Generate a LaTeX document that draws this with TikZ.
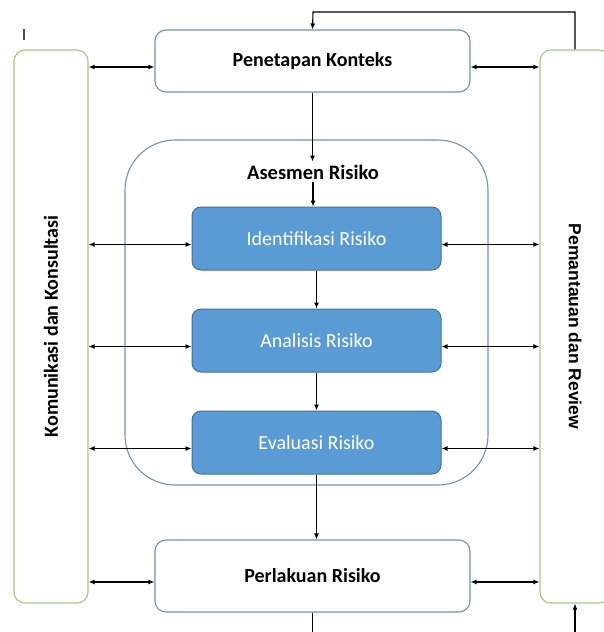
\documentclass[tikz,border=0pt]{standalone}
\usepackage{fontspec}
\setmainfont{Carlito}
\newfontfamily\arialfont{Liberation Sans}
\usetikzlibrary{arrows.meta, positioning}

\definecolor{colgreen}{HTML}{A8C88C}
\definecolor{boxline}{HTML}{7291B3}
\definecolor{stepfill}{HTML}{5B9BD5}
\definecolor{stepline}{HTML}{41719C}

\begin{document}
\begin{tikzpicture}[
    x=1pt, y=-1pt,
    node distance=38pt,
    every node/.style={inner sep=0pt, font=\fontsize{20}{24}\selectfont},
    sidebox/.style={draw=colgreen, line width=1.2pt, rounded corners=11pt, minimum width=74pt, minimum height=553pt},
    mainbox/.style={draw=boxline, line width=1.1pt, rounded corners=11pt, minimum width=315pt, font=\fontsize{20}{24}\selectfont\bfseries},
    stepbox/.style={draw=stepline, fill=stepfill, line width=1pt, rounded corners=9pt, minimum width=249pt, minimum height=63pt, text=white},
    link/.style={-{Latex[length=6pt,width=5pt]}, line width=1.1pt},
    both/.style={{Latex[length=6pt,width=5pt]}-{Latex[length=6pt,width=5pt]}, line width=1.1pt}
]

% Page size
\useasboundingbox (0,0) rectangle (603,632);

% Cursor mark
\draw[black!70, line width=1.2pt] (24,29) -- (24,40);

% Side columns
\node[sidebox] (comm) at (51,326.5) {};
\node[rotate=90, font=\fontsize{20}{24}\selectfont\bfseries] at (comm.center) {Komunikasi dan Konsultasi};
\node[sidebox, minimum width=70pt] (monitor) at (575,326.5) {};
\node[rotate=-90, font=\fontsize{17.5}{20}\selectfont\arialfont\bfseries] at (monitor.center) {Pemantauan dan Review};

% Context and treatment
\node[mainbox, minimum height=62pt] (context) at (312.5,61) {Penetapan Konteks};
\node[mainbox, minimum height=72pt] (treat) at (312.5,576) {Perlakuan Risiko};

% Risk assessment
\node[draw=boxline, line width=1.1pt, rounded corners=50pt, minimum width=363pt, minimum height=345pt] (assess) at (306.5,312.5) {};
\node[font=\fontsize{20.5}{24}\selectfont\bfseries, inner sep=3pt] (assesslbl) at (313,172) {Asesmen Risiko};

\node[stepbox] (ident) at (316.5,238.5) {Identifikasi Risiko};
\node[stepbox, below=of ident] (analysis) {Analisis Risiko};
\node[stepbox, below=of analysis] (evaluation) {Evaluasi Risiko};

% Main flow
\foreach \i/\j in {context/assesslbl, assesslbl/ident, ident/analysis,
                   analysis/evaluation, evaluation/treat}
    \draw[link] (\i.south) -- (\i.south |- \j.north);

% Feedback from monitoring
\coordinate (fbtop) at (313,12);
\coordinate (monin) at (575,640);
\draw[link] (monitor.north) |- (fbtop) -- (context.north);
\draw (treat.south) -- ++(0,25);
\draw[link] (monin) -- (monitor.south);

% Links to the side columns
\foreach \b in {context, ident, analysis, evaluation, treat} {
    \draw[both] ([yshift=-6pt]comm.east |- \b.west) -- ([yshift=-6pt]\b.west);
    \draw[both] ([yshift=-6pt]\b.east) -- ([yshift=-6pt]monitor.west |- \b.east);
}

\end{tikzpicture}
\end{document}
